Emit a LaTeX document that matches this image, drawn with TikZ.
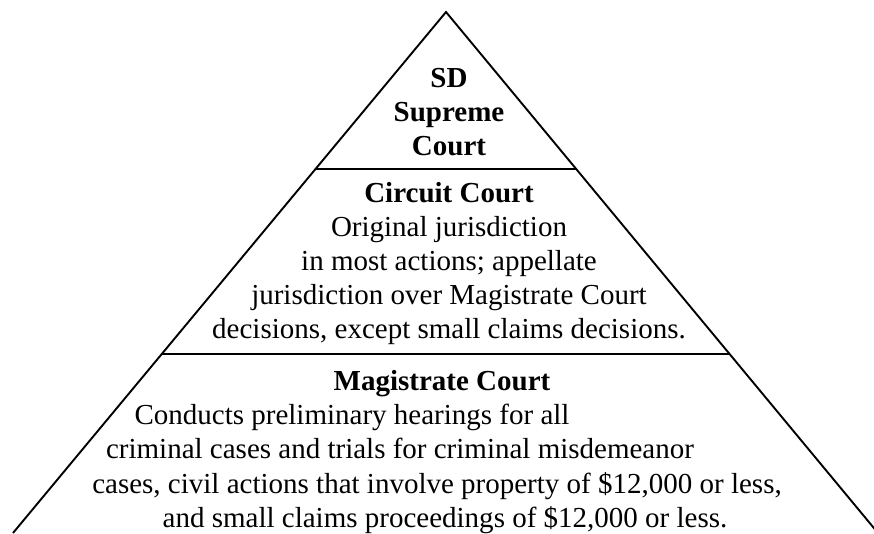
\documentclass[tikz,border=0pt]{standalone}
\usepackage{fontspec}
\setmainfont{Liberation Serif}
\usetikzlibrary{calc}
\begin{document}
\begin{tikzpicture}[x=1pt,y=-1pt,
  txt/.style={anchor=base, inner sep=0pt, font=\fontsize{29}{34}\selectfont},
  btxt/.style={anchor=base, inner sep=0pt, font=\fontsize{29}{34}\selectfont\bfseries},
  edge/.style={line width=1.9pt}]
\useasboundingbox (0,0) rectangle (874,533);
\coordinate (apex) at (446,12);
\coordinate (bl) at (13,533);
\coordinate (br) at (878,533);
\draw[edge, line join=miter] (bl) -- (apex) -- (br);
\coordinate (l1a) at ($(apex)!0.3013!(bl)$);
\coordinate (l1b) at ($(apex)!0.3013!(br)$);
\coordinate (l2a) at ($(apex)!0.6564!(bl)$);
\coordinate (l2b) at ($(apex)!0.6564!(br)$);
\draw[edge] (l1a) -- (l1b);
\draw[edge] (l2a) -- (l2b);
% top tier
\node[btxt] (t1) at (449,87) {SD};
\node[btxt] (t2) at (449,121) {Supreme};
\node[btxt] (t3) at (449,155) {Court};
% middle tier
\node[btxt] (m1) at (449,202) {Circuit Court};
\node[txt] (m2) at (449,236) {Original jurisdiction};
\node[txt] (m3) at (449,270) {in most actions; appellate};
\node[txt] (m4) at (449,304) {jurisdiction over Magistrate Court};
\node[txt] (m5) at (449,338) {decisions, except small claims decisions.};
% bottom tier
\node[btxt] (b1) at (442,390) {Magistrate Court};
\node[txt] (b2) at (352,424) {Conducts preliminary hearings for all};
\node[txt] (b3) at (400,458) {criminal cases and trials for criminal misdemeanor};
\node[txt] (b4) at (437,493) {cases, civil actions that involve property of \$12,000 or less,};
\node[txt] (b5) at (445,527) {and small claims proceedings of \$12,000 or less.};
\end{tikzpicture}
\end{document}
